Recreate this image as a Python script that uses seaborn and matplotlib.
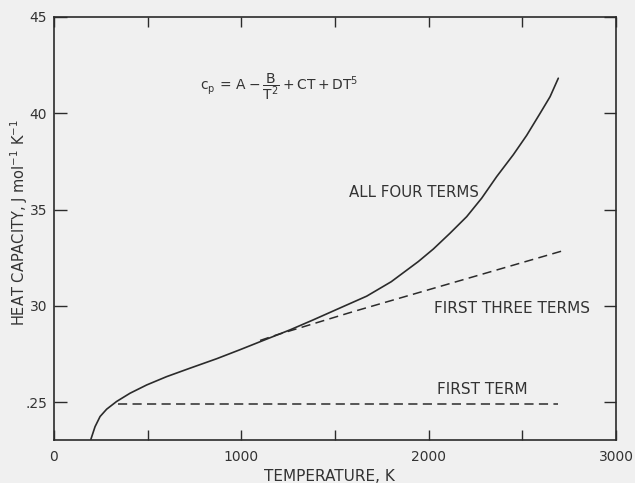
import numpy as np
import pandas as pd
import matplotlib
matplotlib.use("Agg")
import matplotlib.pyplot as plt
import seaborn as sns

# ---- data ----
all_T = [197, 219, 246, 281, 334, 406, 495, 601, 726, 868, 993, 1135, 1260, 1384, 1525,
         1669, 1800, 1945, 2025, 2114, 2203, 2283, 2363, 2452, 2523, 2595, 2648, 2692]
all_cp = [23.07, 23.72, 24.25, 24.63, 25.03, 25.46, 25.89, 26.32, 26.76, 27.25, 27.72, 28.27,
          28.75, 29.27, 29.88, 30.5, 31.25, 32.3, 32.95, 33.77, 34.63, 35.59, 36.71, 37.85,
          38.85, 40.0, 40.86, 41.82]

three_T = [1100, 1189, 1598, 2731]
three_cp = [28.2, 28.49, 29.70, 32.90]

first_T = [343, 2689]
first_cp = [24.89, 24.89]

xticks_major = [0, 500, 1000, 1500, 2000, 2500, 3000]
xtick_labels = ["0", "", "1000", "", "2000", "", "3000"]
yticks = [25, 30, 35, 40, 45]
ytick_labels = [".25", "30", "35", "40", "45"]

df_all = pd.DataFrame({"T": all_T, "cp": all_cp})
df_three = pd.DataFrame({"T": three_T, "cp": three_cp})
df_first = pd.DataFrame({"T": first_T, "cp": first_cp})

sns.set_theme(style="ticks")
plt.rcParams["font.family"] = ["DejaVu Sans"]
plt.rcParams["mathtext.fontset"] = "dejavusans"

ink = "#2b2b2b"
txt = "#333333"
bg = "#f0f0f0"

fig = plt.figure(figsize=(6.35, 4.83), dpi=100, facecolor=bg)
ax = fig.add_axes([54/635, 1-440/483, (616-54)/635, (440-17)/483])
ax.set_facecolor(bg)

sns.lineplot(data=df_all, x="T", y="cp", ax=ax, color=ink, lw=1.2, sort=False)
sns.lineplot(data=df_three, x="T", y="cp", ax=ax, color=ink, lw=1.1, sort=False,
             linestyle=(0, (6, 3.5)))
sns.lineplot(data=df_first, x="T", y="cp", ax=ax, color=ink, lw=1.1, sort=False,
             linestyle=(0, (6, 3.5)))

ax.set_xlim(0, 3000)
ax.set_ylim(23.03, 45)

ax.set_xticks(xticks_major)
ax.set_xticklabels(xtick_labels)
ax.set_yticks(yticks)
ax.set_yticklabels(ytick_labels)

ax.tick_params(axis="both", direction="in", length=7, width=1.0, color=ink,
               labelsize=10, labelcolor=txt, top=True, right=True, pad=6)
ax.tick_params(axis="y", length=9, pad=5)
ax.tick_params(axis="x", pad=7)

for s in ax.spines.values():
    s.set_color(ink)
    s.set_linewidth(1.2)

ax.set_xlabel("TEMPERATURE, K", fontsize=11, color=txt)
ax.xaxis.set_label_coords(0.49, -0.068)
ax.set_ylabel(r"HEAT CAPACITY, J mol$^{-1}$ K$^{-1}$", fontsize=10.5, color=txt)
ax.yaxis.set_label_coords(-0.043, 0.515)

ax.text(780, 41.4, r"$\mathregular{c_p\,=\,A - \dfrac{B}{T^2} + CT + DT^5}$",
        fontsize=10, color=txt, va="center", ha="left")
ax.text(1575, 35.9, "ALL FOUR TERMS", fontsize=10.8, color=txt, va="center")
ax.text(2030, 29.85, "FIRST THREE TERMS", fontsize=11, color=txt, va="center")
ax.text(2045, 25.65, "FIRST TERM", fontsize=11, color=txt, va="center")

fig.savefig("out.png", dpi=100, facecolor=bg)
